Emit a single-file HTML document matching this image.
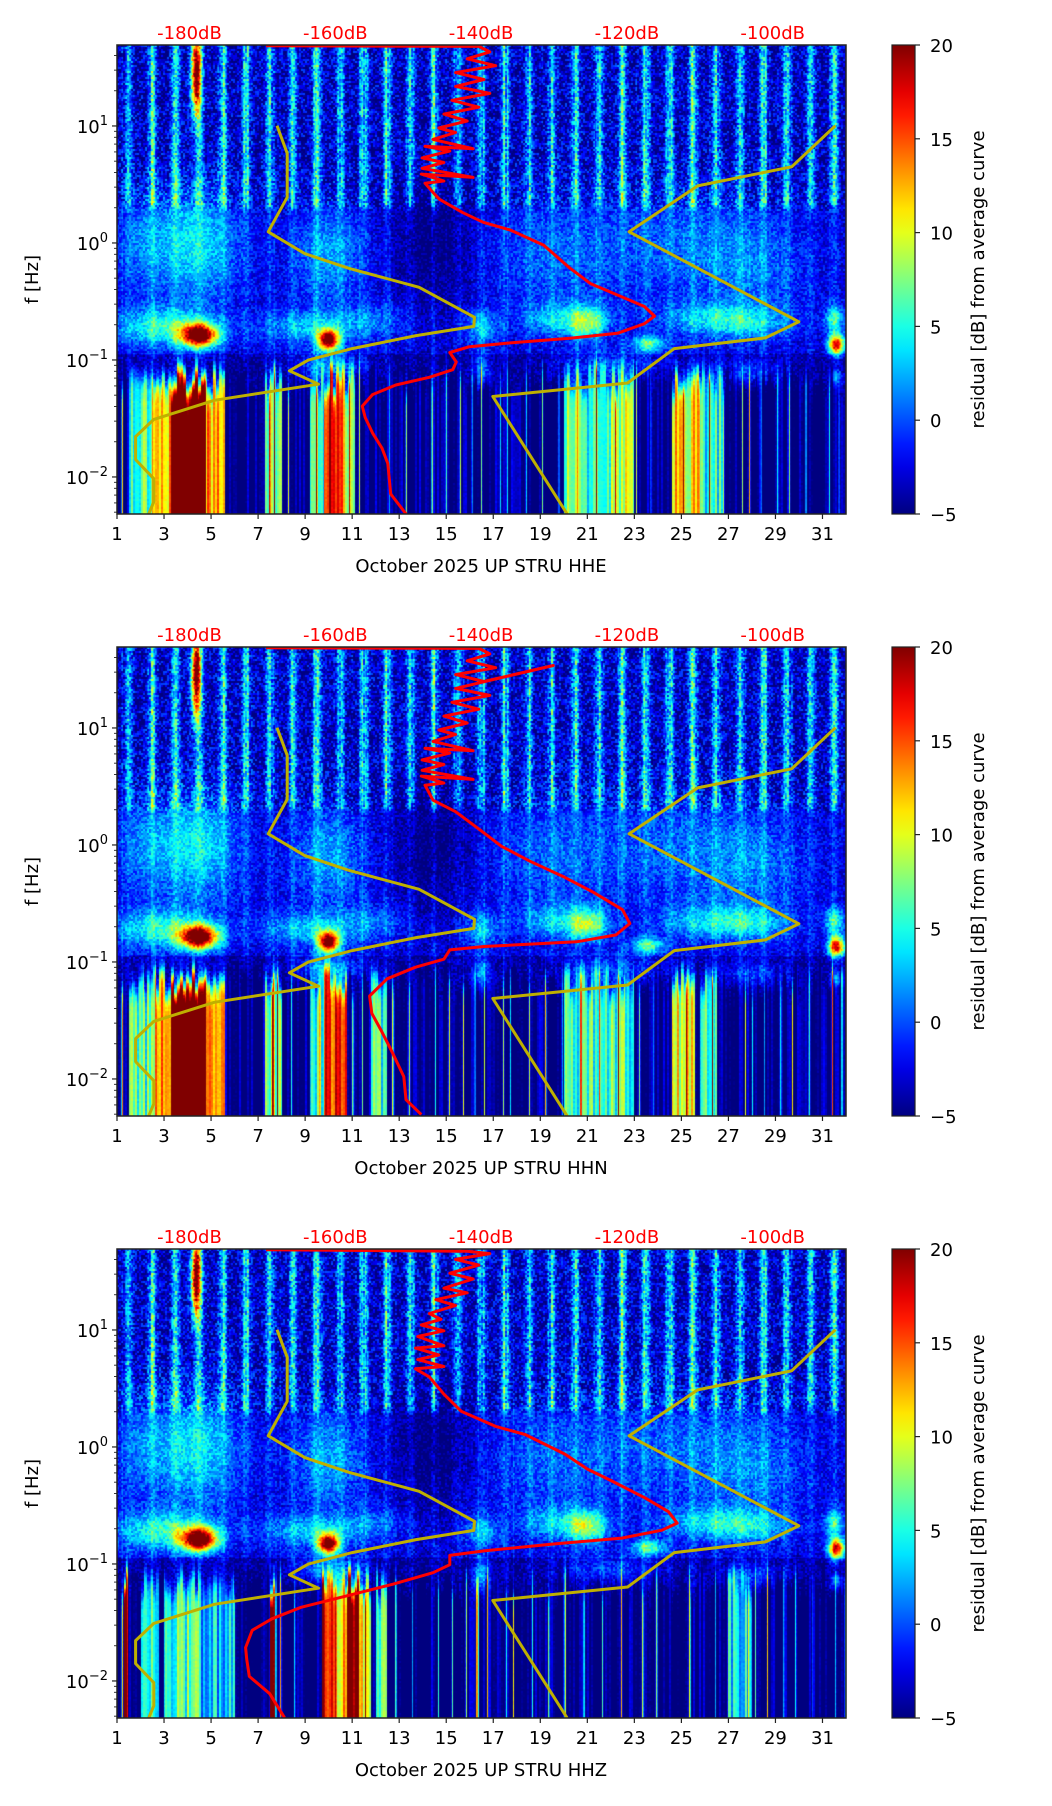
<!DOCTYPE html>
<html><head><meta charset="utf-8">
<style>
body{margin:0;background:#fff;width:1052px;height:1806px;position:relative;overflow:hidden;font-family:"DejaVu Sans","Liberation Sans",sans-serif}
canvas{position:absolute}
svg{position:absolute;left:0;top:0}
</style></head>
<body>
<svg id="fig" width="1052" height="1806"></svg>
<script>
// ---------- data ----------
const panelTitles = ["October 2025 UP STRU  HHE","October 2025 UP STRU  HHN","October 2025 UP STRU  HHZ"];
const xTickDays = [1,3,5,7,9,11,13,15,17,19,21,23,25,27,29,31];
const yTickExps = [1,0,-1,-2];
const dbTickValues = [-180,-160,-140,-120,-100];
const cbTicks = [20,15,10,5,0,-5];
const stripeAmp = [5,8,8,9,8,8,8,8,9,8,9,8,8,8,8,8,8,7,7,8,8,8,8,8,8,8,8,8,8,8,8];

const redHHE_dB = [-150.3,-152.4,-152.8,-153.6,-154.9,-155.9,-156.3,-154.9,-151.7,-147.1,-143.9,-143.4,-144.3,-141.6,-136.0,-127.8,-121.3,-117.6,-116.2,-117.6,-121.3,-125,-127.8,-129.6,-131.4,-136.0,-139.7,-142.5,-145.7,-146.6,-147.7,-145.1,-148.2,-141.1,-148.1,-145.1,-148.1,-144.3,-147.7,-141.1,-146.6,-143.5,-145.8,-141.9,-145.1,-140.3,-144.0,-138.8,-143.5,-139.6,-143.5,-138.0,-141.9,-138.8,-140.3,-169.5];
const redHHE_lf = [-2.316,-2.146,-1.885,-1.754,-1.623,-1.492,-1.394,-1.296,-1.214,-1.148,-1.083,-1.017,-0.936,-0.887,-0.854,-0.815,-0.772,-0.690,-0.625,-0.543,-0.445,-0.347,-0.216,-0.118,-0.019,0.111,0.177,0.259,0.373,0.432,0.511,0.530,0.589,0.560,0.638,0.688,0.727,0.786,0.826,0.806,0.885,0.944,0.983,1.042,1.101,1.160,1.219,1.278,1.338,1.397,1.456,1.515,1.574,1.633,1.680,1.685];
const redHHN_dB = [-148.2,-150.3,-150.6,-152.1,-153.7,-155.0,-155.3,-152.9,-149.0,-145.1,-144.3,-139.6,-126.9,-121.5,-119.6,-120.6,-124.6,-128.5,-133.3,-137.2,-140.3,-143.5,-146.6,-147.7,-145.1,-148.2,-141.1,-148.1,-145.1,-148.1,-144.3,-147.7,-141.1,-146.6,-143.5,-145.8,-141.9,-145.1,-140.3,-144.0,-138.8,-143.5,-130.1,-139.6,-143.5,-138.0,-141.9,-138.8,-140.3,-169.5];
const redHHN_lf = [-2.305,-2.177,-1.980,-1.783,-1.586,-1.439,-1.291,-1.144,-1.045,-0.976,-0.897,-0.868,-0.828,-0.769,-0.671,-0.553,-0.405,-0.277,-0.139,-0.011,0.136,0.284,0.383,0.511,0.530,0.589,0.560,0.638,0.688,0.727,0.786,0.826,0.806,0.885,0.944,0.983,1.042,1.101,1.160,1.219,1.278,1.338,1.534,1.397,1.456,1.515,1.574,1.633,1.680,1.685];
const redHHZ_dB = [-166.95,-169.0,-171.8,-172.15,-172.3,-171.4,-168.7,-164.7,-158.4,-152.1,-146.6,-144.3,-144.3,-139.6,-130.1,-120.7,-115.2,-113.1,-114.3,-117.5,-122.2,-125.4,-128.5,-134.0,-138.0,-142.7,-145.1,-147.1,-149.0,-145.1,-148.7,-145.8,-149.0,-145.1,-148.7,-145.1,-148.2,-145.5,-147.1,-143.5,-146.2,-141.9,-145.1,-141.1,-144.3,-140.3,-143.5,-138.8,-141.9,-169.5];
const redHHZ_lf = [-2.315,-2.109,-1.961,-1.813,-1.715,-1.567,-1.469,-1.370,-1.272,-1.173,-1.075,-1.006,-0.927,-0.888,-0.829,-0.779,-0.711,-0.651,-0.553,-0.435,-0.287,-0.189,-0.061,0.107,0.176,0.304,0.451,0.599,0.668,0.688,0.747,0.786,0.845,0.865,0.944,0.993,1.042,1.091,1.141,1.210,1.259,1.318,1.357,1.436,1.485,1.554,1.603,1.653,1.672,1.685];

const nlnm_dB = [-168.0,-166.6,-166.6,-169.2,-164.2,-158.2,-148.5,-140.9,-141.0,-148.9,-157.7,-163.7,-166.3,-162.3,-176.6,-184.9,-187.4,-187.4,-184.9,-184.9,-185.6];
const nlnm_lf = [1.002,0.766,0.390,0.095,-0.091,-0.216,-0.379,-0.635,-0.713,-0.792,-0.903,-1.001,-1.093,-1.207,-1.345,-1.508,-1.655,-1.852,-2.015,-2.212,-2.316];
const nhnm_dB = [-91.4,-97.4,-110.3,-119.7,-96.4,-101,-113.5,-119.9,-138.4,-128.2];
const nhnm_lf = [1.002,0.651,0.488,0.095,-0.674,-0.811,-0.903,-1.197,-1.312,-2.316];

// low-frequency column segments [startDay, endDay, residual dB]
const lowSegHHE = [[1.5,2.5,6],[2.5,3.3,12],[3.3,4.8,24],[4.8,5.6,13],[7.3,8.0,7],[9.2,9.8,5],[9.8,10.6,18],[10.6,11.1,10],[20,21,7],[21,22,4],[22,23,9],[24.6,25.8,11],[25.8,26.8,5]];
const lowSegHHN = [[1.5,2.6,6],[2.6,3.3,13],[3.3,4.8,24],[4.8,5.6,12],[7.3,8,8],[9.2,9.8,6],[9.8,10.8,16],[11.8,12.5,5],[20,23,6],[24.6,25.6,10],[25.8,26.5,5]];
const lowSegHHZ = [[1.3,1.45,20],[2,2.8,6],[3,4.5,6],[4.5,6,3],[7.5,7.7,20],[9.7,10.3,16],[10.3,10.8,12],[10.8,11.3,22],[11.3,11.8,10],[12,12.5,6],[16.25,16.35,12],[27,28,4]];
const streakDays = [7.5,7.7,8.3,9.5,10.9,11.3,12.6,13.3,14.4,15.0,15.6,16.1,16.5,17.3,17.6,18.4,19.1,19.8,20.6,21.4,22.2,23.1,23.7,25.1,26.2,27.6,27.9,28.4,29.1,29.6,30.3,31.3,31.7];
// blobs [day, log10 f, sdDay, sdLogf, amplitude]
const blobs = [[4.3,0.0,1.3,0.35,7],[10,-0.1,1.0,0.3,5],[2,0,0.7,0.3,3],[19.5,-0.1,2,0.35,3],[25,0,2.5,0.35,3],[28,-0.2,1.5,0.3,3],[14.5,0,1.2,0.4,-3],
 [4.5,-0.79,0.55,0.07,24],[10.0,-0.83,0.3,0.06,24],[31.6,-0.87,0.25,0.06,20],[3,-0.72,1.5,0.12,8],[9.3,-0.72,1.5,0.1,6],[16.5,-0.72,0.5,0.1,6],[21,-0.68,0.6,0.1,10],[19.5,-0.65,1,0.1,5],[23.6,-0.86,0.5,0.05,9],[26,-0.65,1.5,0.1,5],[28,-0.68,1.2,0.1,5],[31.5,-0.65,0.3,0.08,8],[12,-0.65,1,0.1,3],
 [10,-1.05,1,0.08,6],[16.5,-1.1,0.3,0.1,6],[22,-1.05,1.5,0.08,4],[28,-1.1,1,0.08,4],[31.6,-1.15,0.2,0.05,6],[4.35,1.45,0.15,0.25,22]];

// ---------- layout ----------
const AX_L=117, AX_R=846, AX_H=469, PANEL_TOPS=[45,647,1249];
const LF_TOP=1.692, LF_BOT=-2.316, PX_PER_DEC=117, DAY0=1, DAY1=32;
const CB_L=892, CB_R=915;
const SVGNS="http://www.w3.org/2000/svg";
const svg=document.getElementById('fig');
function xDay(d){return AX_L+(d-DAY0)/(DAY1-DAY0)*(AX_R-AX_L);}
function yLf(lf,top){return top+(LF_TOP-lf)*PX_PER_DEC;}
function xDb(db){return 189.5+(db+180)*7.29;}
function mk(tag,attrs,parent){const e=document.createElementNS(SVGNS,tag);for(const k in attrs)e.setAttribute(k,attrs[k]);(parent||svg).appendChild(e);return e;}
function jet(t){t=Math.max(0,Math.min(1,t));const c=v=>Math.round(255*Math.max(0,Math.min(1,v)));
 return [c(1.5-Math.abs(4*t-3)),c(1.5-Math.abs(4*t-2)),c(1.5-Math.abs(4*t-1))];}
function hash(a,b){let h=(a*374761393+b*668265263)|0;h=(h^(h>>>13))*1274126177|0;h=h^(h>>>16);return (h>>>0)/4294967296;}

const lowSegs=[lowSegHHE,lowSegHHN,lowSegHHZ];
const reds=[[redHHE_dB,redHHE_lf],[redHHN_dB,redHHN_lf],[redHHZ_dB,redHHZ_lf]];

function drawHeat(p,top){
 const W=AX_R-AX_L,H=AX_H;
 const cv=document.createElement('canvas');cv.width=W;cv.height=H;
 cv.style.left=AX_L+'px';cv.style.top=top+'px';
 
 
 document.body.insertBefore(cv,svg);
 const ctx=cv.getContext('2d');const img=ctx.createImageData(W,H);
 const segs=lowSegs[p];
 const colLow=new Float32Array(W),colStreak=new Float32Array(W),colN=new Float32Array(W),colTop=new Float32Array(W);
 for(let x=0;x<W;x++){const d=DAY0+(x+0.5)/W*(DAY1-DAY0);let v=-5.5;
  for(const s of segs) if(d>=s[0]&&d<s[1]) v=s[2];
  colLow[x]=v;let st=0;
  streakDays.forEach((sd,k)=>{const dd=(d-sd-p*0.13)/0.018;st+=Math.exp(-dd*dd/2)*(8+12*hash(k,p+31));});
  const rd=(d-1.22)/0.02;st+=Math.exp(-rd*rd/2)*26;
  colStreak[x]=st;colN[x]=(hash(Math.floor(x/2),p*97+5)-0.5)*7;
  colTop[x]=-1.05-0.25*hash(Math.floor(x/3),p*53+11);}
 for(let y=0;y<H;y++){const lf=LF_TOP-(y+0.5)/PX_PER_DEC;
  const wTop=1/(1+Math.exp(-(lf-0.3)/0.015));
  const midBase=lf>-0.5?-2.8:(lf>-0.95?-3:-4.5);
  for(let x=0;x<W;x++){const d=DAY0+(x+0.5)/W*(DAY1-DAY0);
   const wLow=1/(1+Math.exp((lf-colTop[x])/0.05));
   const di=Math.min(30,Math.floor(d)-1);const fr=d-Math.floor(d);
   const sf=(fr-0.5)/0.12;const stripe=stripeAmp[di]*Math.exp(-sf*sf/2)*(0.6+0.8*hash(x>>1,977));
   let b=0;for(const q of blobs){const a=(d-q[0])/q[2],c=(lf-q[1])/q[3];const e=a*a+c*c;if(e<18)b+=q[4]*Math.exp(-e/2);}
   const n=hash(x>>1,(y>>1)+p*1000)-0.5;
   let vTop=-3.5+stripe+n*7;
   let vMid=midBase+stripe*0.2+n*4;
   let vLow=colLow[x]+colN[x]+n*1;
   let v=wTop*vTop+(1-wTop)*((1-wLow)*vMid+wLow*vLow)+b;
   v+=colStreak[x]*(0.08+0.92*wLow);
   const col=jet((v+5)/25);const i=(y*W+x)*4;
   img.data[i]=col[0];img.data[i+1]=col[1];img.data[i+2]=col[2];img.data[i+3]=255;}}
 ctx.putImageData(img,0,0);
}

function polyline(dbs,lfs,top,color,w,name,clip){
 let pts=[];for(let i=0;i<dbs.length;i++)pts.push(xDb(dbs[i]).toFixed(1)+','+yLf(lfs[i],top).toFixed(1));
 const e=mk('polyline',{points:pts.join(' '),fill:'none',stroke:color,'stroke-width':w,'stroke-linejoin':'round','clip-path':'url(#'+clip+')'});
 
 
}

const defs=mk('defs',{});
const grad=mk('linearGradient',{id:'jetgrad',x1:0,y1:1,x2:0,y2:0},defs);
for(let i=0;i<=20;i++){const c=jet(i/20);mk('stop',{offset:(i/20),'stop-color':'rgb('+c.join(',')+')'},grad);}

PANEL_TOPS.forEach((top,p)=>{
 drawHeat(p,top);
 const cp=mk('clipPath',{id:'clip'+p},defs);mk('rect',{x:AX_L,y:top,width:AX_R-AX_L,height:AX_H},cp);
 const g=mk('g',{});
 
 
 polyline(nlnm_dB,nlnm_lf,top,'#bfb000',3,'nlnm-line','clip'+p);
 polyline(nhnm_dB,nhnm_lf,top,'#bfb000',3,'nhnm-line','clip'+p);
 polyline(reds[p][0],reds[p][1],top,'#ff0000',3,'average-psd-curve','clip'+p);
 const fr=mk('rect',{x:AX_L,y:top,width:AX_R-AX_L,height:AX_H,fill:'none',stroke:'#222','stroke-width':1.5});
 
 
 const bot=top+AX_H;
 xTickDays.forEach(d=>{const x=xDay(d);mk('line',{x1:x,y1:bot,x2:x,y2:bot+5,stroke:'#222','stroke-width':1.2});
  const t=mk('text',{x:x,y:bot+26,'text-anchor':'middle','font-size':18,fill:'#000'});t.textContent=d;
  
  });
 const xl=mk('text',{x:481,y:bot+58,'text-anchor':'middle','font-size':18,fill:'#000'});xl.textContent=panelTitles[p];
 
 
 for(let e=-3;e<=1;e++)for(let k=1;k<10;k++){const lf=e+Math.log10(k);if(lf<LF_BOT||lf>LF_TOP)continue;const y=yLf(lf,top);
  mk('line',{x1:AX_L-(k===1?5:3),y1:y,x2:AX_L,y2:y,stroke:'#222','stroke-width':k===1?1.2:0.9});}
 yTickExps.forEach(e=>{const y=yLf(e,top);const t=mk('text',{x:108,y:y+7,'text-anchor':'end','font-size':18,fill:'#000'});
  t.textContent='10';const s=mk('tspan',{'font-size':13,dy:-8},t);s.textContent=e<0?'\u2212'+(-e):''+e;
  
  });
 const yl=mk('text',{x:0,y:0,transform:'translate(38,'+(top+AX_H/2)+') rotate(-90)','text-anchor':'middle','font-size':18,fill:'#000'});yl.textContent='f [Hz]';
 
 
 dbTickValues.forEach(v=>{const t=mk('text',{x:xDb(v),y:top-6,'text-anchor':'middle','font-size':18,fill:'#ff0000'});t.textContent=v+'dB';
  
  });
 const cb=mk('rect',{x:CB_L,y:top,width:CB_R-CB_L,height:AX_H,fill:'url(#jetgrad)',stroke:'#222','stroke-width':1.2});
 
 
 cbTicks.forEach(v=>{const y=top+(20-v)/25*AX_H;mk('line',{x1:CB_R,y1:y,x2:CB_R+5,y2:y,stroke:'#222','stroke-width':1.2});
  const t=mk('text',{x:CB_R+15,y:y+7,'font-size':18,fill:'#000'});t.textContent=v<0?'\u2212'+(-v):v;
  
  });
 const cl=mk('text',{x:0,y:0,transform:'translate(984,'+(top+AX_H/2)+') rotate(-90)','text-anchor':'middle','font-size':18,fill:'#000'});cl.textContent='residual [dB] from average curve';
 
 
});
</script>
</body></html>
